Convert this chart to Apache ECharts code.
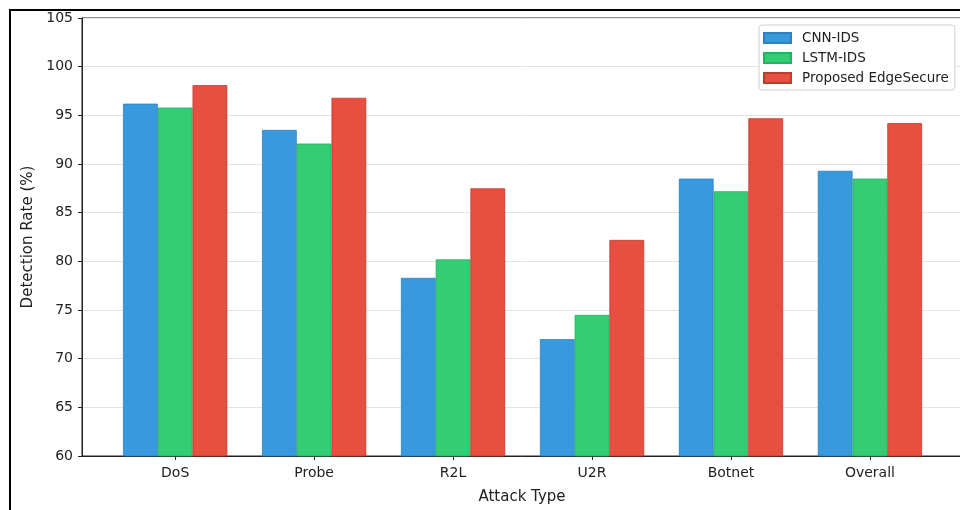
<!DOCTYPE html>
<html><head><meta charset="utf-8">
<script src="https://cdn.jsdelivr.net/npm/echarts@6/dist/echarts.min.js"></script>
<style>html,body{margin:0;padding:0;background:#fff}#c{width:960px;height:510px}</style>
</head><body><div id="c"></div>
<script>
const categories = ['DoS', 'Probe', 'R2L', 'U2R', 'Botnet', 'Overall'];
const cnnIds = [96.2, 93.5, 78.3, 72.0, 88.5, 89.3];
const lstmIds = [95.8, 92.1, 80.2, 74.5, 87.2, 88.5];
const edgeSecure = [98.1, 96.8, 87.5, 82.2, 94.7, 94.2];
const seriesNames = ['CNN-IDS', 'LSTM-IDS', 'Proposed EdgeSecure'];
const yTicks = [60, 65, 70, 75, 80, 85, 90, 95, 100, 105];

const colors = ['#3498db', '#2ecc71', '#e74c3c'];
const borders = ['#2a7fc0', '#27ae60', '#c0392b'];
const font = 'DejaVu Sans';
const idx = categories.map((c, i) => i);

const chart = echarts.init(document.getElementById('c'), null, {renderer: 'canvas'});
const mk = (name, vals, k) => ({
  name, type: 'bar',
  data: vals.map((v, i) => [i, v]),
  barWidth: 34.75, barGap: '0%',
  itemStyle: {color: colors[k], borderColor: borders[k], borderWidth: 0.8, opacity: 0.98},
  emphasis: {disabled: true}
});
chart.setOption({
  animation: false,
  backgroundColor: '#fff',
  textStyle: {fontFamily: font},
  grid: {left: 82, top: 18, width: 880, bottom: 54, outerBoundsMode: 'none', containLabel: false,
         show: true, borderColor: '#222', borderWidth: 1, backgroundColor: 'transparent'},
  legend: {
    orient: 'vertical', left: 759, top: 25,
    data: seriesNames,
    icon: 'rect', itemWidth: 27, itemHeight: 10, itemGap: 6,
    textStyle: {fontFamily: font, fontSize: 13.5, color: '#222', padding: [0, 0, 0, 6]},
    backgroundColor: '#fff', borderColor: '#d0d0d0', borderWidth: 1, borderRadius: 3,
    padding: [6, 6, 5, 4]
  },
  xAxis: {
    type: 'value', min: -0.6705, max: 5.6625,
    splitLine: {show: false},
    axisLine: {show: true, onZero: false, lineStyle: {color: '#222', width: 1}},
    axisTick: {show: true, customValues: idx, length: 4, lineStyle: {color: '#222'}},
    axisLabel: {customValues: idx, formatter: v => categories[Math.round(v)], fontSize: 14, color: '#222', margin: 10, fontFamily: font},
    name: 'Attack Type', nameLocation: 'middle', nameGap: 34,
    nameTextStyle: {fontSize: 15, color: '#222', fontFamily: font}
  },
  yAxis: {
    type: 'value', min: 60, max: 105, interval: 5,
    axisLine: {show: true, onZero: false, lineStyle: {color: '#222', width: 1}},
    axisTick: {show: true, length: 4, lineStyle: {color: '#222'}},
    axisLabel: {fontSize: 14, color: '#222', margin: 9, fontFamily: font, formatter: v => yTicks.includes(v) ? String(v) : ''},
    splitLine: {show: true, lineStyle: {color: '#e4e4e4', width: 1}},
    name: 'Detection Rate (%)', nameLocation: 'middle', nameGap: 46, nameRotate: 90,
    nameTextStyle: {fontSize: 15, color: '#222', fontFamily: font}
  },
  series: [mk(seriesNames[0], cnnIds, 0), mk(seriesNames[1], lstmIds, 1), mk(seriesNames[2], edgeSecure, 2)],
  graphic: [{
    type: 'rect', silent: true, x: 0, y: 0,
    shape: {x: 10, y: 10, width: 960, height: 520},
    style: {fill: 'none', stroke: '#000', lineWidth: 2}
  }]
});
</script></body></html>
